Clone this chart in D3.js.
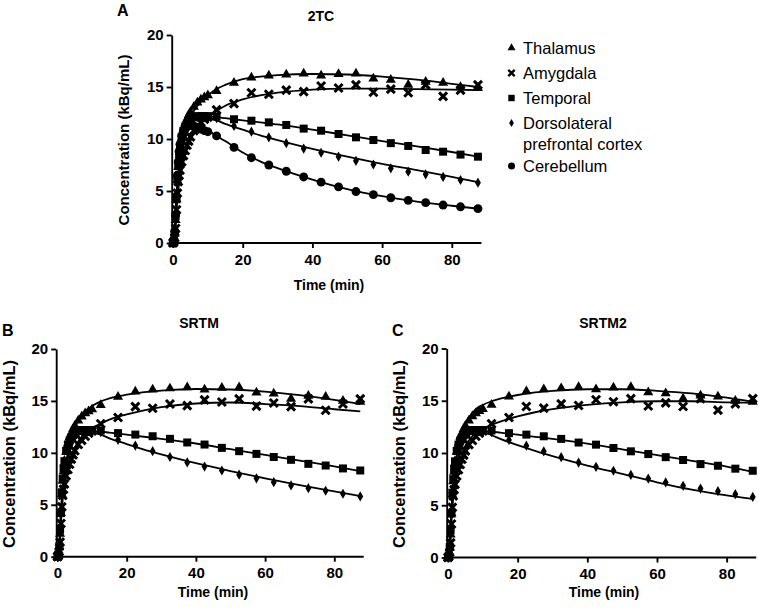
<!DOCTYPE html>
<html><head><meta charset="utf-8">
<script src="https://cdn.jsdelivr.net/npm/d3@7"></script>
<style>
html,body{margin:0;padding:0;background:#fff;}
svg{display:block;font-family:"Liberation Sans",Arial,sans-serif;}
</style></head>
<body>
<svg id="c" width="762" height="610"></svg>
<script>
// ---------- DATA ----------
const time = [0,0.25,0.5,0.75,1,1.25,1.5,1.75,2,2.5,3,3.5,4,4.5,5,6,7,8,9,10,12.5,17.5,22.5,27.5,32.5,37.5,42.5,47.5,52.5,57.5,62.5,67.5,72.5,77.5,82.5,87.5];
const thalamus   = [0,0.2,0.9,2.2,4.2,6.0,7.3,8.2,9.0,10.1,10.9,11.5,11.9,12.3,12.6,13.1,13.5,13.8,14.0,14.2,14.6,15.4,15.9,16.1,16.2,16.3,16.1,16.25,16.3,15.8,15.7,15.2,15.5,15.4,15.0,14.9];
const amygdala   = [0,0.1,0.5,1.4,3.2,4.8,5.9,6.5,7.0,7.8,8.4,8.9,9.4,9.8,10.2,10.8,11.2,11.6,11.9,12.1,12.8,13.4,14.45,14.3,14.7,14.55,15.1,14.9,15.2,14.5,14.8,14.45,15.2,14.1,14.7,15.2];
const temporal   = [0,0.2,1.0,2.6,4.2,6.2,7.5,8.5,9.2,10.2,10.8,11.2,11.5,11.7,11.9,12.1,12.2,12.2,12.2,12.2,12.15,11.9,11.76,11.6,11.35,11.0,10.8,10.48,10.16,9.9,9.6,9.33,8.94,8.78,8.5,8.3];
const dlpfc      = [0,0.2,1.0,2.6,4.3,6.3,7.6,8.6,9.3,10.3,10.9,11.3,11.6,11.8,11.9,12.0,12.1,12.1,12.1,12.0,12.0,11.25,10.7,10.16,9.6,9.08,8.68,8.3,7.9,7.55,7.18,6.86,6.6,6.35,6.06,5.8];
const cerebellum = [0,0.2,1.1,2.7,4.5,6.5,7.8,8.8,9.5,10.3,10.8,11.0,11.2,11.3,11.3,11.25,11.1,10.95,10.8,10.7,10.3,9.2,8.2,7.5,6.9,6.35,5.85,5.4,4.95,4.65,4.35,4.1,3.88,3.65,3.48,3.3];

// model fit curves
const fitTime = [0,0.5,1,1.5,2,3,4,5,6,8,10,12.5,15,20,25,30,40,50,60,70,80,87.5];
const fit2TC = {
  thalamus:   [0,0.8,4.2,6.2,7.6,9.6,11.0,12.0,12.7,13.6,14.2,14.8,15.2,15.75,16.0,16.15,16.25,16.2,16.0,15.7,15.3,15.0],
  amygdala:   [0,0.4,3.0,5.0,6.2,7.8,9.0,9.9,10.6,11.5,12.1,12.7,13.2,13.8,14.2,14.45,14.75,14.85,14.85,14.8,14.75,14.7],
  temporal:   [0,1.0,4.3,6.3,7.7,9.5,10.6,11.3,11.7,12.1,12.15,12.1,12.0,11.8,11.6,11.4,10.9,10.35,9.8,9.3,8.75,8.3],
  dlpfc:      [0,1.0,4.3,6.4,7.8,9.6,10.7,11.4,11.8,12.05,12.0,11.8,11.45,10.9,10.35,9.9,9.05,8.3,7.6,7.0,6.35,5.85],
  cerebellum: [0,1.1,4.5,6.6,8.0,9.7,10.6,11.1,11.25,11.2,10.85,10.3,9.8,8.7,7.85,7.2,6.1,5.18,4.5,3.98,3.58,3.3]
};
const fitSRTM = {
  thalamus:   [0,0.8,4.0,6.5,8.0,10.0,11.4,12.4,13.1,14.0,14.5,14.95,15.25,15.6,15.85,16.0,16.15,16.1,15.9,15.55,15.1,14.7],
  amygdala:   [0,0.4,3.2,5.5,6.8,8.5,9.7,10.5,11.1,11.9,12.4,12.8,13.2,13.7,14.1,14.4,14.75,14.85,14.7,14.5,14.2,14.0],
  temporal:   [0,1.0,4.3,6.3,7.7,9.5,10.6,11.3,11.7,12.0,12.1,12.05,11.95,11.75,11.55,11.35,10.9,10.35,9.8,9.25,8.7,8.25],
  dlpfc:      [0,1.0,4.3,6.4,7.8,9.6,10.7,11.4,11.8,12.0,12.0,11.75,11.4,10.85,10.3,9.85,9.0,8.25,7.55,6.9,6.3,5.85]
};
const fitSRTM2 = {
  thalamus:   [0,1.0,4.5,7.0,8.6,10.6,11.9,12.8,13.4,14.2,14.6,14.95,15.2,15.55,15.8,15.95,16.1,16.1,15.95,15.7,15.3,14.9],
  amygdala:   [0,0.5,3.4,5.8,7.1,8.8,9.9,10.7,11.2,11.9,12.3,12.7,13.0,13.5,13.9,14.2,14.6,14.85,14.95,14.95,14.85,14.8],
  temporal:   [0,1.0,4.3,6.3,7.7,9.5,10.6,11.3,11.7,12.0,12.1,12.05,11.95,11.75,11.55,11.35,10.9,10.35,9.8,9.25,8.7,8.2],
  dlpfc:      [0,1.0,4.3,6.4,7.8,9.6,10.7,11.4,11.8,12.0,12.0,11.7,11.35,10.75,10.2,9.7,8.8,8.0,7.2,6.5,5.95,5.6]
};
const regions = ["thalamus","amygdala","temporal","dlpfc","cerebellum"];
const regionNames = ["Thalamus","Amygdala","Temporal","Dorsolateral\nprefrontal cortex","Cerebellum"];
const regionData = {thalamus, amygdala, temporal, dlpfc, cerebellum};
const xTicks = [0,20,40,60,80];
const yTicks = [0,5,10,15,20];

// ---------- DRAWING ----------
const svg = d3.select("#c");
const FONT = '"Liberation Sans",Arial,sans-serif';

function symbolPath(region, s) {
  if (region === "amygdala") {
    const r = 4.0*s;
    return `M${-r},${-r}L${r},${r}M${-r},${r}L${r},${-r}`;
  }
  const map = {thalamus:[d3.symbolTriangle,44], temporal:[d3.symbolSquare,64], dlpfc:[d3.symbolDiamond,30], cerebellum:[d3.symbolCircle,62]};
  const [t, size] = map[region];
  return d3.symbol(t, size*s*s)();
}

function drawMarker(g, region, x, y, s) {
  const p = g.append("path").attr("d", symbolPath(region, s)).attr("transform", `translate(${x},${y})`);
  if (region === "amygdala") p.attr("fill","none").attr("stroke","#000").attr("stroke-width",3.0*s);
  else p.attr("fill","#000");
}

function panel(cfg) {
  const x = d3.scaleLinear().domain([0, 88.5]).range([cfg.x0, cfg.x0 + 88.5*cfg.pxPerMin]);
  const y = d3.scaleLinear().domain([0, 20]).range([cfg.y0, cfg.y20]);
  const g = svg.append("g");

  const xa = g.append("g").attr("transform", `translate(0,${cfg.y0})`)
    .call(d3.axisBottom(x).tickValues(xTicks).tickSize(5).tickSizeOuter(0).tickPadding(6));
  const ya = g.append("g").attr("transform", `translate(${cfg.x0-1.3},0)`)
    .call(d3.axisLeft(y).tickValues(yTicks).tickSize(5).tickSizeOuter(0).tickPadding(3));
  [xa, ya].forEach(a => {
    a.selectAll("path.domain").attr("stroke","#000").attr("stroke-width",1.9);
    a.selectAll(".tick line").attr("stroke","#000").attr("stroke-width",1.9);
    a.selectAll(".tick text").attr("fill","#000").style("font-family",FONT).style("font-size", cfg.tickFont+"px").style("font-weight","bold");
  });
  xa.select("path.domain").attr("d", `M${cfg.x0-2.2},0H${x(88.5)}`);

  const line = d3.line().x(d => x(d[0])).y(d => y(d[1])).curve(d3.curveMonotoneX);
  cfg.regions.forEach(r => {
    const pts = fitTime.map((t,i) => [t, cfg.fit[r][i]]);
    g.append("path").attr("d", line(pts)).attr("fill","none").attr("stroke","#000").attr("stroke-width",1.8);
  });
  cfg.regions.slice().reverse().forEach(r => {
    time.forEach((t,i) => drawMarker(g, r, x(t), y(regionData[r][i]), 1));
  });

  g.append("text").attr("x", cfg.letterX).attr("y", cfg.letterY).text(cfg.letter)
    .style("font-size","16px").style("font-weight","bold").attr("fill","#000");
  g.append("text").attr("x", cfg.titleX).attr("y", cfg.titleY).attr("text-anchor","middle").text(cfg.title)
    .style("font-size","14px").style("font-weight","bold").attr("fill","#000");
  g.append("text").attr("x", cfg.xTitleX).attr("y", cfg.xTitleY).attr("text-anchor","middle").text("Time (min)")
    .style("font-size","14px").style("font-weight","bold").attr("fill","#000");
  g.append("text").attr("transform", `translate(${cfg.yTitleX},${cfg.yTitleY}) rotate(-90)`).attr("text-anchor","middle")
    .text("Concentration (kBq/mL)").style("font-size", cfg.yTitleFont+"px").style("font-weight","bold").attr("fill","#000");
}

panel({letter:"A", letterX:117, letterY:16, title:"2TC", titleX:321, titleY:21,
  x0:173, pxPerMin:3.485, y0:243, y20:35, tickFont:15,
  xTitleX:329, xTitleY:290, yTitleX:129, yTitleY:140, yTitleFont:15,
  regions: regions, fit: fit2TC});
panel({letter:"B", letterX:2, letterY:336, title:"SRTM", titleX:199, titleY:328,
  x0:57.5, pxPerMin:3.46, y0:556.7, y20:349, tickFont:15,
  xTitleX:213, xTitleY:597, yTitleX:15, yTitleY:454, yTitleFont:16.5,
  regions: regions.slice(0,4), fit: fitSRTM});
panel({letter:"C", letterX:392, letterY:336, title:"SRTM2", titleX:603, titleY:328,
  x0:448, pxPerMin:3.483, y0:557.5, y20:348.5, tickFont:15,
  xTitleX:604, xTitleY:597, yTitleX:405, yTitleY:454, yTitleFont:16.5,
  regions: regions.slice(0,4), fit: fitSRTM2});

const leg = svg.append("g");
const legY = [48, 73, 98, 123, 166];
regions.forEach((r,i) => {
  drawMarker(leg, r, 511.5, legY[i], 0.8);
  const lines = regionNames[i].split("\n");
  lines.forEach((l,j) => {
    leg.append("text").attr("x", 523).attr("y", legY[i] + 6 + j*20.5).text(l)
      .style("font-size","16.5px").attr("fill","#000");
  });
});
</script>
</body></html>
